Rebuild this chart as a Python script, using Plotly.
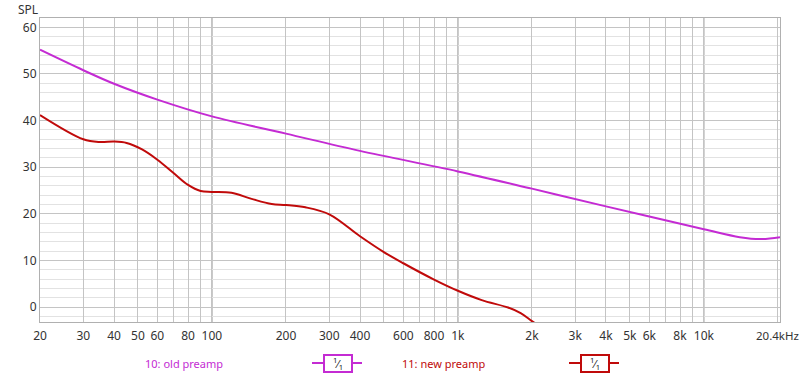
import plotly.graph_objects as go
import numpy as np

# ---- data ----
old_freq = [20, 30, 40, 60, 100, 200, 400, 1000, 2000, 4000, 10000, 14000, 17000, 20400]
old_spl = [55.2, 50.8, 47.9, 44.5, 40.9, 37.2, 33.5, 29.1, 25.4, 21.6, 16.7, 15.0, 14.6, 15.0]

new_freq = [20, 30, 35, 40, 45, 52, 60, 70, 80, 90, 100, 120, 145, 175, 200, 240, 300,
            400, 500, 600, 800, 1000, 1250, 1600, 1800, 2000, 2200]
new_spl = [41.2, 36.0, 35.4, 35.5, 35.2, 33.8, 31.6, 28.7, 26.2, 24.9, 24.7, 24.5, 23.2, 22.1,
           21.9, 21.4, 19.9, 15.2, 11.8, 9.4, 5.9, 3.5, 1.5, -0.1, -1.3, -3.0, -4.5]

tick_vals = [20, 30, 40, 50, 60, 70, 80, 90, 100, 200, 300, 400, 500, 600, 700, 800, 900,
             1000, 2000, 3000, 4000, 5000, 6000, 7000, 8000, 9000, 10000, 20000]
tick_text = ["20", "30", "40", "50", "60", " ", "80", " ", "100", "200", "300", "400", " ", "600", " ",
             "800", " ", "1k", "2k", "3k", "4k", "5k", "6k", " ", "8k", " ", "10k", " "]
decades = [100, 1000, 10000]

series_names = ["10: old preamp", "11: new preamp"]
MAG = "#c42bd3"
RED = "#c00a0a"

fig = go.Figure()
fig.add_trace(go.Scatter(x=old_freq, y=old_spl, mode="lines", name=series_names[0],
                         line=dict(color=MAG, width=2, shape="spline", smoothing=1.0),
                         showlegend=False))
fig.add_trace(go.Scatter(x=new_freq, y=new_spl, mode="lines", name=series_names[1],
                         line=dict(color=RED, width=2, shape="spline", smoothing=1.0),
                         showlegend=False))

W, H = 800, 374
L, R, T, B = 40, 20, 18, 52
pw, ph = W - L - R, H - T - B

def px(x):
    return (x - L) / pw

def py(y):
    return (H - B - y) / ph

shapes = []
for d in decades:
    shapes.append(dict(type="line", xref="x", yref="paper", x0=d, x1=d, y0=0, y1=1,
                       line=dict(color="#7a7a7a", width=1), layer="below"))

annotations = [
    dict(text="SPL", xref="paper", yref="paper", x=px(28), y=py(9), xanchor="center", yanchor="middle",
         showarrow=False, font=dict(size=12, color="#333333")),
    dict(text="20.4kHz", xref="paper", yref="paper", x=px(754), y=py(335), xanchor="left",
         yanchor="middle", showarrow=False, font=dict(size=11.5, color="#333333")),
    dict(text=series_names[0], xref="paper", yref="paper", x=px(184), y=py(363), xanchor="center",
         yanchor="middle", showarrow=False, font=dict(size=11, color=MAG)),
    dict(text=series_names[1], xref="paper", yref="paper", x=px(443), y=py(363), xanchor="center",
         yanchor="middle", showarrow=False, font=dict(size=11, color=RED)),
]
for cx, col in [(338, MAG), (595, RED)]:
    shapes.append(dict(type="line", xref="paper", yref="paper", x0=px(cx - 26), x1=px(cx + 24),
                       y0=py(363), y1=py(363), line=dict(color=col, width=2)))
    annotations.append(dict(text="<sup>1</sup>⁄<sub>1</sub>", xref="paper", yref="paper",
                            x=px(cx), y=py(363), xanchor="center", yanchor="middle",
                            showarrow=False, bgcolor="white",
                            bordercolor=col, borderwidth=2, borderpad=1, width=24, height=13,
                            font=dict(size=11, color="#222222")))

fig.update_layout(
    width=W, height=H,
    margin=dict(l=L, r=R, t=T, b=B, autoexpand=False),
    paper_bgcolor="white", plot_bgcolor="white",
    font=dict(family="Noto Sans, Open Sans, sans-serif", size=12, color="#333333"),
    xaxis=dict(type="log", range=[np.log10(20), np.log10(20400)], automargin=False,
               tickmode="array", tickvals=tick_vals, ticktext=tick_text, tickangle=0,
               ticklabelstandoff=3,
               showgrid=True, gridcolor="#c4c4c4", gridwidth=1,
               showline=True, linecolor="#b0b0b0", mirror=True, zeroline=False,
               ticks="", tickfont=dict(size=12, color="#333333")),
    yaxis=dict(range=[-3.2, 62], tickmode="linear", tick0=0, dtick=10, automargin=False,
               showgrid=True, gridcolor="#c4c4c4", gridwidth=1,
               minor=dict(dtick=2, tick0=0, showgrid=True, gridcolor="#e2e2e2", gridwidth=1),
               showline=True, linecolor="#b0b0b0", mirror=True, zeroline=False,
               ticks="", tickfont=dict(size=12, color="#333333")),
    shapes=shapes,
    annotations=annotations,
)

fig.write_html("out.html", config={"displayModeBar": False})

# remove the default page margin so the figure sits at the window's top-left corner
with open("out.html", "r", encoding="utf-8") as f:
    html = f.read()
html = html.replace("<head>", "<head><style>html,body{margin:0;padding:0;overflow:hidden;}</style>", 1)
with open("out.html", "w", encoding="utf-8") as f:
    f.write(html)
